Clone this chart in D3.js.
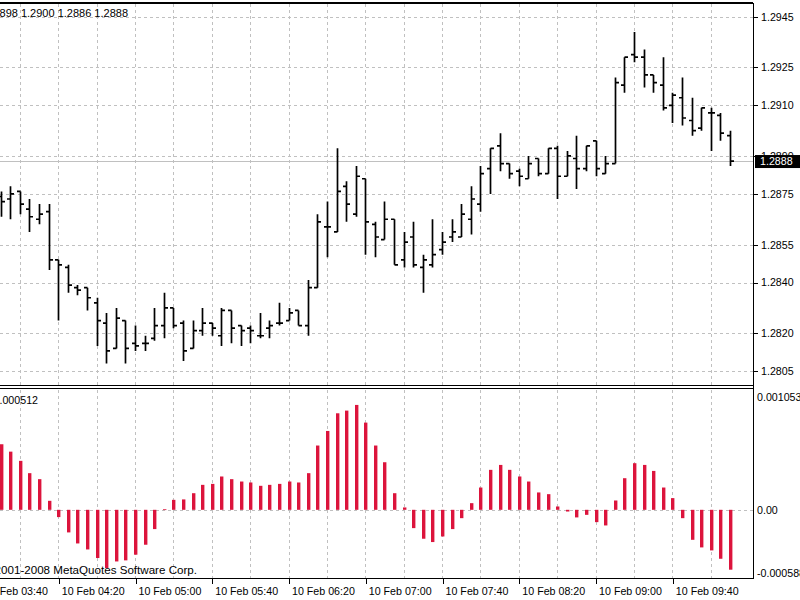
<!DOCTYPE html>
<html lang="en">
	<head>
		<meta charset="utf-8">
		<title>EURUSD,M5 with OsMA</title>
		<style type="text/css">
			body { margin: 0; background: #ffffff; }
			svg { display: block; font-family: "Liberation Sans", Arial, sans-serif; font-size: 8pt; }
			.grid line { stroke: #c0c0c0; stroke-dasharray: 3,3; shape-rendering: crispEdges; }
			.axis .domain { display: none; }
			.axis line { stroke: #000; shape-rendering: crispEdges; }
			.axis text { fill: #000; font-size: 8pt; font-family: "Liberation Sans", Arial, sans-serif; }
		</style>
	</head>
	<body>
		<script src="https://d3js.org/d3.v7.min.js"></script>
		<script type="text/javascript">
			//Size and panel edges
			var w = 800;
			var h = 600;
			var plotRight = 753;
			var priceTop = 3, priceBottom = 386;
			var indTop = 389, indBottom = 578;

			//Bar times (5 minute bars, 10 Feb)
			var times = [
				"03:50","03:55","04:00","04:05","04:10","04:15","04:20","04:25","04:30","04:35",
				"04:40","04:45","04:50","04:55","05:00","05:05","05:10","05:15","05:20","05:25",
				"05:30","05:35","05:40","05:45","05:50","05:55","06:00","06:05","06:10","06:15",
				"06:20","06:25","06:30","06:35","06:40","06:45","06:50","06:55","07:00","07:05",
				"07:10","07:15","07:20","07:25","07:30","07:35","07:40","07:45","07:50","07:55",
				"08:00","08:05","08:10","08:15","08:20","08:25","08:30","08:35","08:40","08:45",
				"08:50","08:55","09:00","09:05","09:10","09:15","09:20","09:25","09:30","09:35",
				"09:40","09:45","09:50","09:55","10:00","10:05","10:10"
			];

			var open = [
				1.2874,1.2873,1.2876,1.2869,1.2865,1.2868,1.2849,1.2846,1.2838,1.2838,
				1.2832,1.2824,1.2814,1.2825,1.2816,1.2816,1.2818,1.2823,1.2830,1.2824,
				1.2814,1.2821,1.2824,1.2819,1.2829,1.2823,1.2822,1.2819,1.2822,1.2824,
				1.2825,1.2829,1.2823,1.2838,1.2862,1.2860,1.2878,1.2867,1.2881,1.2863,
				1.2857,1.2865,1.2849,1.2858,1.2846,1.2847,1.2853,1.2858,1.2858,1.2865,
				1.2871,1.2885,1.2894,1.2887,1.2884,1.2881,1.2889,1.2883,1.2893,1.2882,
				1.2889,1.2885,1.2896,1.2883,1.2887,1.2918,1.2930,1.2929,1.2922,1.2918,
				1.2910,1.2913,1.2904,1.2901,1.2907,1.2906,1.2898
			];
			var high = [
				1.2876,1.2878,1.2876,1.2873,1.2871,1.2871,1.2849,1.2847,1.2839,1.2838,
				1.2834,1.2828,1.2830,1.2825,1.2823,1.2819,1.2830,1.2836,1.2830,1.2825,
				1.2825,1.2830,1.2824,1.2830,1.2829,1.2823,1.2823,1.2828,1.2825,1.2832,
				1.2830,1.2829,1.2841,1.2867,1.2872,1.2893,1.2880,1.2886,1.2881,1.2864,
				1.2872,1.2865,1.2860,1.2864,1.2851,1.2865,1.2860,1.2865,1.2871,1.2878,
				1.2886,1.2893,1.2899,1.2887,1.2885,1.2890,1.2889,1.2893,1.2894,1.2892,
				1.2898,1.2894,1.2896,1.2890,1.2921,1.2929,1.2939,1.2932,1.2922,1.2929,
				1.2915,1.2921,1.2913,1.2909,1.2909,1.2907,1.2900
			];
			var low = [
				1.2866,1.2865,1.2867,1.2860,1.2863,1.2845,1.2825,1.2836,1.2835,1.2829,
				1.2815,1.2808,1.2814,1.2808,1.2813,1.2813,1.2817,1.2818,1.2822,1.2809,
				1.2814,1.2819,1.2819,1.2815,1.2816,1.2815,1.2816,1.2818,1.2818,1.2823,
				1.2825,1.2823,1.2819,1.2838,1.2850,1.2860,1.2864,1.2866,1.2851,1.2850,
				1.2857,1.2847,1.2846,1.2846,1.2836,1.2846,1.2851,1.2856,1.2858,1.2859,
				1.2868,1.2875,1.2884,1.2881,1.2878,1.2881,1.2882,1.2883,1.2873,1.2882,
				1.2877,1.2884,1.2882,1.2883,1.2887,1.2915,1.2927,1.2917,1.2915,1.2908,
				1.2903,1.2902,1.2898,1.2900,1.2892,1.2896,1.2886
			];
			var close = [
				1.2872,1.2875,1.2871,1.2866,1.2867,1.2849,1.2847,1.2839,1.2837,1.2834,
				1.2825,1.2813,1.2826,1.2814,1.2815,1.2816,1.2823,1.2830,1.2823,1.2813,
				1.2821,1.2824,1.2822,1.2829,1.2822,1.2821,1.2821,1.2819,1.2823,1.2824,
				1.2828,1.2823,1.2838,1.2864,1.2862,1.2876,1.2871,1.2882,1.2864,1.2858,
				1.2865,1.2847,1.2856,1.2847,1.2849,1.2851,1.2856,1.2860,1.2867,1.2873,
				1.2883,1.2893,1.2887,1.2883,1.2882,1.2887,1.2883,1.2893,1.2882,1.2890,
				1.2885,1.2894,1.2885,1.2887,1.2919,1.2929,1.2929,1.2922,1.2919,1.2909,
				1.2914,1.2905,1.2900,1.2909,1.2907,1.2899,1.2888
			];

			//OsMA histogram values
			var osma = [
				0.000612,0.000543,0.000457,0.000342,0.000286,0.000084,-0.000068,-0.000211,-0.000314,-0.000370,
				-0.000450,-0.000543,-0.000482,-0.000472,-0.000419,-0.000326,-0.000180,0.000005,0.000093,0.000097,
				0.000155,0.000233,0.000242,0.000311,0.000286,0.000264,0.000255,0.000224,0.000233,0.000242,
				0.000264,0.000255,0.000342,0.000600,0.000736,0.000901,0.000926,0.000979,0.000814,0.000600,
				0.000444,0.000155,0.000022,-0.000171,-0.000270,-0.000301,-0.000249,-0.000180,-0.000078,0.000062,
				0.000208,0.000373,0.000419,0.000373,0.000311,0.000264,0.000162,0.000146,0.000031,-0.000016,
				-0.000071,-0.000047,-0.000115,-0.000146,0.000087,0.000295,0.000435,0.000419,0.000363,0.000208,
				0.000109,-0.000078,-0.000280,-0.000351,-0.000379,-0.000457,-0.000559
			];

			//Axis labels
			var priceTicks = [1.2945, 1.2925, 1.2910, 1.2890, 1.2875, 1.2855, 1.2840, 1.2820, 1.2805];
			var timeTicks = ["03:40","04:20","05:00","05:40","06:20","07:00","07:40","08:20","09:00","09:40"];
			var indTicks = [0.001053, 0, -0.000588];
			var indTickLabels = ["0.001053", "0.00", "-0.000588"];

			var parseT = function(s) { return d3.timeParse("%d %b %H:%M")("10 Feb " + s); };
			var bars = times.map(function(t, i) {
				return { t: parseT(t), o: open[i], h: high[i], l: low[i], c: close[i], v: osma[i] };
			});

			//Scales
			var xScale = d3.scaleTime()
							.domain([parseT("03:50"), parseT("10:10")])
							.range([0.7, 729.9]);
			var yScale = d3.scaleLinear()
							.domain([1.2805, 1.2945])
							.range([371.2, 16.7]);
			var indScale = d3.scaleLinear()
							.domain([-0.000588, 0.001053])
							.range([572.8, 397]);

			var svg = d3.select("body")
						.append("svg")
						.attr("width", w)
						.attr("height", h);

			svg.append("rect").attr("width", w).attr("height", h).attr("fill", "#ffffff");

			//Grid
			var grid = svg.append("g").attr("class", "grid");
			var gridTimes = d3.timeMinute.every(20).range(parseT("03:40"), parseT("10:11"));
			grid.selectAll("line.vp")
				.data(gridTimes)
				.enter()
				.append("line")
				.attr("x1", function(d) { return Math.round(xScale(d)) + 0.5; })
				.attr("x2", function(d) { return Math.round(xScale(d)) + 0.5; })
				.attr("y1", priceTop + 1)
				.attr("y2", priceBottom);
			grid.selectAll("line.vi")
				.data(gridTimes)
				.enter()
				.append("line")
				.attr("x1", function(d) { return Math.round(xScale(d)) + 0.5; })
				.attr("x2", function(d) { return Math.round(xScale(d)) + 0.5; })
				.attr("y1", indTop + 1)
				.attr("y2", indBottom);
			grid.selectAll("line.h")
				.data(priceTicks)
				.enter()
				.append("line")
				.attr("x1", 0)
				.attr("x2", plotRight)
				.attr("y1", function(d) { return Math.round(yScale(d)) + 0.5; })
				.attr("y2", function(d) { return Math.round(yScale(d)) + 0.5; });
			grid.append("line")
				.attr("x1", 0)
				.attr("x2", plotRight)
				.attr("y1", Math.round(indScale(0)) + 0.5)
				.attr("y2", Math.round(indScale(0)) + 0.5);

			//Current price line
			var last = bars[bars.length - 1];
			svg.append("line")
				.attr("x1", 0)
				.attr("x2", plotRight)
				.attr("y1", Math.round(yScale(last.c)) + 0.5)
				.attr("y2", Math.round(yScale(last.c)) + 0.5)
				.attr("stroke", "#c0c0c0")
				.attr("stroke-width", 1.2);

			//OHLC bars
			svg.append("g")
				.selectAll("path")
				.data(bars)
				.enter()
				.append("path")
				.attr("d", function(d) {
					var x = Math.round(xScale(d.t)) + 0.5;
					return "M" + x + "," + yScale(d.h) + "V" + yScale(d.l) +
						"M" + (x - 3.5) + "," + yScale(d.o) + "H" + x +
						"M" + x + "," + yScale(d.c) + "H" + (x + 3.5);
				})
				.attr("fill", "none")
				.attr("stroke", "#000000")
				.attr("stroke-width", 1.7);

			//Histogram
			svg.append("g")
				.selectAll("rect")
				.data(bars)
				.enter()
				.append("rect")
				.attr("x", function(d) { return Math.round(xScale(d.t)) - 1; })
				.attr("width", 3.4)
				.attr("y", function(d) { return Math.min(indScale(d.v), indScale(0)); })
				.attr("height", function(d) { return Math.max(Math.abs(indScale(d.v) - indScale(0)), 0.8); })
				.attr("fill", "#dc143c");

			//Frame
			var frame = svg.append("g")
							.attr("stroke", "#000000")
							.attr("shape-rendering", "crispEdges");
			frame.append("line").attr("x1", 0).attr("x2", plotRight).attr("y1", priceTop).attr("y2", priceTop).attr("stroke-width", 1.5);
			frame.append("line").attr("x1", 0).attr("x2", plotRight).attr("y1", priceBottom - 0.5).attr("y2", priceBottom - 0.5);
			frame.append("line").attr("x1", 0).attr("x2", plotRight).attr("y1", indTop - 0.5).attr("y2", indTop - 0.5);
			frame.append("line").attr("x1", 0).attr("x2", plotRight).attr("y1", indBottom + 0.5).attr("y2", indBottom + 0.5);
			frame.append("line").attr("x1", plotRight + 0.5).attr("x2", plotRight + 0.5).attr("y1", priceTop).attr("y2", indBottom + 0.5);

			//Price axis
			svg.append("g")
				.attr("class", "axis")
				.attr("transform", "translate(" + (plotRight + 1) + ",0)")
				.call(d3.axisRight(yScale)
						.tickValues(priceTicks)
						.tickSize(4)
						.tickPadding(3)
						.tickFormat(d3.format(".4f")));

			//Indicator axis
			svg.append("g")
				.attr("class", "axis")
				.attr("transform", "translate(" + (plotRight + 1) + ",0)")
				.call(d3.axisRight(indScale)
						.tickValues(indTicks)
						.tickSize(0)
						.tickPadding(3)
						.tickFormat(function(d, i) { return indTickLabels[i]; }));

			//Time axis
			var tAxis = svg.append("g")
				.attr("class", "axis")
				.attr("transform", "translate(0," + (indBottom + 1) + ")")
				.call(d3.axisBottom(xScale)
						.tickValues(timeTicks.map(parseT))
						.tickSize(5)
						.tickFormat(d3.timeFormat("%d %b %H:%M")));
			tAxis.selectAll(".tick line").attr("transform", "translate(0.5,0)");
			tAxis.selectAll(".tick text")
				.attr("text-anchor", "start")
				.attr("x", 3)
				.attr("y", 8)
				.attr("dy", "0.71em");

			//Current price marker
			svg.append("rect")
				.attr("x", plotRight + 2)
				.attr("y", yScale(last.c) - 6)
				.attr("width", w - plotRight - 2)
				.attr("height", 13)
				.attr("fill", "#000000");
			svg.append("text")
				.attr("x", plotRight + 7)
				.attr("y", yScale(last.c) + 0.5)
				.attr("dy", "0.35em")
				.attr("fill", "#ffffff")
				.text(d3.format(".4f")(last.c));

			//Labels
			svg.append("text")
				.attr("x", 128)
				.attr("y", 17)
				.attr("text-anchor", "end")
				.attr("fill", "#000000")
				.style("font-size", "11px")
				.text("EURUSD,M5  " + [last.o, last.h, last.l, last.c].map(d3.format(".4f")).join(" "));
			svg.append("text")
				.attr("x", 38)
				.attr("y", 404)
				.attr("text-anchor", "end")
				.attr("fill", "#000000")
				.text("OsMA(12,26,9) 0.000512");
			svg.append("text")
				.attr("x", 197)
				.attr("y", 574)
				.attr("text-anchor", "end")
				.attr("fill", "#000000")
				.style("font-size", "11.6px")
				.text("\u00a9 2001-2008 MetaQuotes Software Corp.");
		</script>
	</body>
</html>
